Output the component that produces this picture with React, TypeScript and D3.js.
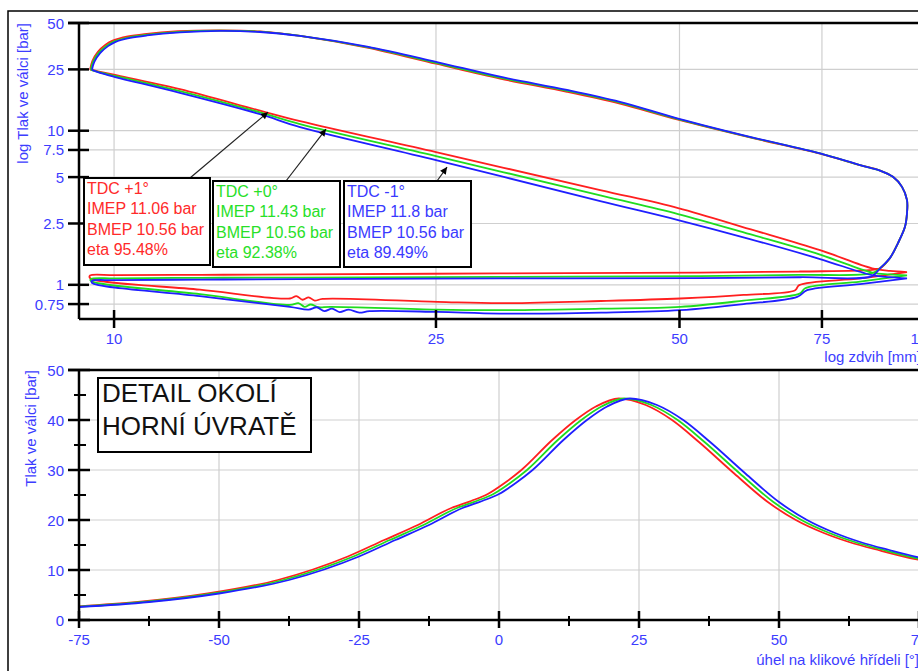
import React from 'react';
import * as d3 from 'd3';

// ---- upper chart: log p - log stroke loops, [stroke mm, pressure bar] ----
const expansionRed = [[9.34, 24.9], [9.40, 28.3], [9.55, 32.5], [9.76, 36.1], [9.96, 38.4], [10.4, 40.9], [10.9, 42.4], [12.0, 44.2], [13.5, 44.8], [15.15, 44.1], [16.98, 41.2], [20.55, 34.6], [25.0, 27.2], [30.0, 21.8], [36.3, 17.9], [42.2, 15.0], [49.8, 11.8], [61.1, 9.05], [74.6, 7.1], [83.6, 5.98]];
const expansionGreen = [[9.36, 24.85], [9.42, 28.1], [9.58, 32.2], [9.8, 35.7], [10.0, 38.0], [10.44, 40.4], [10.94, 41.9], [12.03, 43.8], [13.5, 44.6], [15.15, 43.9], [16.98, 41.2], [20.55, 34.85], [25.0, 27.6], [30.0, 22.1], [36.3, 18.15], [42.2, 15.2], [49.8, 11.9], [61.1, 9.09], [74.6, 7.12], [83.6, 5.98]];
const expansionBlue = [[9.39, 24.8], [9.45, 27.9], [9.61, 31.9], [9.83, 35.4], [10.03, 37.6], [10.47, 40.0], [10.98, 41.5], [12.06, 43.4], [13.52, 44.4], [15.15, 43.7], [16.98, 41.2], [20.55, 35.1], [25.0, 28.0], [30.0, 22.4], [36.3, 18.4], [42.2, 15.4], [49.8, 12.0], [61.1, 9.13], [74.6, 7.13], [83.6, 5.98]];
// exhaust valve opening, same for all three
const blowdown = [[88.5, 5.51], [91.8, 5.02], [94.2, 4.32], [95.55, 3.54], [95.55, 2.92], [95.0, 2.38], [93.1, 1.86], [91.0, 1.49], [88.5, 1.28]];
const exhaustRed = [[86.5, 1.25], [70.5, 1.22], [53, 1.2], [30, 1.185], [17, 1.17], [12.8, 1.16], [10.03, 1.155], [9.34, 1.15]];
const exhaustGreen = [[86.5, 1.19], [70.5, 1.16], [53, 1.14], [30, 1.125], [17, 1.115], [12.8, 1.11], [10.03, 1.1], [9.36, 1.09]];
const exhaustBlue = [[86.5, 1.14], [70.5, 1.12], [53, 1.105], [30, 1.1], [17, 1.09], [12.8, 1.08], [10.03, 1.072], [9.39, 1.06]];
const intakeRed = [[9.34, 1.105], [12.77, 0.93], [16.5, 0.815], [16.8, 0.845], [17.1, 0.8], [17.4, 0.83], [17.7, 0.79], [18.1, 0.81], [25.1, 0.775], [30, 0.76], [40, 0.785], [50.1, 0.815], [60, 0.86], [69.5, 0.923], [70.3, 0.995], [83.6, 1.1], [95.55, 1.21]];
const intakeGreen = [[9.36, 1.06], [12.77, 0.87], [16.5, 0.74], [16.9, 0.76], [17.2, 0.72], [17.5, 0.745], [17.9, 0.715], [18.5, 0.72], [25.1, 0.69], [30, 0.685], [40, 0.7], [50.1, 0.719], [60, 0.79], [70.5, 0.88], [71.5, 0.95], [83.6, 1.05], [95.55, 1.15]];
const intakeBlue = [[9.39, 1.03], [12.77, 0.844], [16.5, 0.719], [17.4, 0.69], [17.8, 0.715], [18.2, 0.675], [18.6, 0.7], [19.0, 0.665], [19.5, 0.69], [20.1, 0.66], [20.7, 0.675], [25.1, 0.667], [30, 0.65], [40, 0.66], [50.1, 0.685], [60, 0.75], [69.9, 0.835], [71.9, 0.923], [83.6, 1.01], [95.55, 1.1]];
const compressionRed = [[95.55, 1.21], [91, 1.23], [86.5, 1.28], [74.6, 1.68], [61.1, 2.3], [49.8, 3.15], [39.9, 4.12], [25.0, 7.26], [16.98, 11.55], [15.15, 13.5], [12.06, 18.6], [10.03, 23.0], [9.55, 24.3], [9.34, 24.9]];
const compressionGreen = [[95.55, 1.15], [91, 1.17], [86.5, 1.2], [74.6, 1.57], [61.1, 2.13], [49.8, 2.88], [39.9, 3.8], [25.0, 6.85], [16.98, 11.05], [15.15, 13.15], [12.06, 18.1], [10.03, 22.65], [9.58, 24.0], [9.36, 24.85]];
const compressionBlue = [[95.55, 1.1], [91, 1.12], [86.5, 1.155], [74.6, 1.47], [61.1, 1.98], [49.8, 2.63], [39.9, 3.49], [25.0, 6.45], [16.98, 10.56], [15.15, 12.8], [12.06, 17.6], [10.03, 22.3], [9.61, 23.7], [9.39, 24.8]];

const strokeTicks = [10, 25, 50, 75, 100];
const logPressureTicks = [50, 25, 10, 7.5, 5, 2.5, 1, 0.75];

// ---- lower chart: pressure vs crank angle ----
const crankPressure = [2.3, 2.6, 3.6, 5.3, 8.0, 12.7, 16.0, 19.0, 22.4, 23.8, 25.2, 27.4, 30, 36, 40, 42.7, 44.3, 43, 40, 35.6, 29.3, 23.6, 20, 17.4, 15.6, 13.9, 12.5, 11.4];
const anglesRed = [-82, -77, -64.5, -52, -39.5, -27, -20.5, -14.5, -8.5, -5, -2, 1, 4, 9.5, 13.7, 17.3, 21.4, 26.2, 30.9, 35.7, 42, 48, 53, 58, 62.5, 68, 73, 78];
const anglesGreen = [-81, -76, -63.5, -51, -38.5, -26, -19.5, -13.5, -7.5, -4, -1, 2, 5, 10.5, 14.7, 18.3, 22.4, 27.2, 31.9, 36.7, 43, 49, 54, 59, 63.5, 69, 74, 79];
const anglesBlue = [-80, -75, -62.5, -50, -37.5, -25, -18.5, -12.5, -6.5, -3, 0, 3, 6, 11.5, 15.7, 19.3, 23.4, 28.2, 32.9, 37.7, 44, 50, 55, 60, 64.5, 70, 75, 80];

const angleTicks = [-75, -50, -25, 0, 25, 50, 75];
const angleMinorTicks = [-62.5, -37.5, -12.5, 12.5, 37.5, 62.5];
const pressureTicks = [0, 10, 20, 30, 40, 50];
const pressureMinorTicks = [5, 15, 25, 35, 45];

// ---- series / annotations ----
const seriesNames = ['TDC +1°', 'TDC +0°', 'TDC -1°'];
const imep = [11.06, 11.43, 11.8];
const bmep = [10.56, 10.56, 10.56];
const eta = [95.48, 92.38, 89.49];
const lineColors = ['#ff1f1f', '#1fdc1f', '#1f1fff'];
const textColors = ['#ff2a2a', '#28e028', '#3a3aff'];
// where each label arrow points [stroke, pressure]
const arrowTargets = [[15.5, 13.2], [18.28, 10.25], [25.8, 5.81]];

const FONT = '"Liberation Sans", Arial, sans-serif';
const LABEL = '#3d3dff';
const GRID = '#cfcfcf';

export default function App() {
  const xUp = d3.scaleLog().domain([9.05, 100]).range([79, 923]);
  const yUp = d3.scaleLog().domain([0.6, 50]).range([319, 23]);
  const xLo = d3.scaleLinear().domain([-75, 75]).range([79, 919]);
  const yLo = d3.scaleLinear().domain([0, 50]).range([620, 370]);

  const loopLine = d3.line<number[]>()
    .x(d => xUp(d[0]))
    .y(d => yUp(d[1]))
    .curve(d3.curveCatmullRom.alpha(0.5));

  const crankLine = d3.line<number>()
    .x(d => d)
    .y((d, i) => yLo(crankPressure[i]))
    .curve(d3.curveMonotoneX);

  // each loop: expansion -> blowdown -> exhaust -> intake -> compression
  const loops = [
    [expansionRed, exhaustRed, intakeRed, compressionRed],
    [expansionGreen, exhaustGreen, intakeGreen, compressionGreen],
    [expansionBlue, exhaustBlue, intakeBlue, compressionBlue],
  ].map(([exp, exh, intk, comp]) => [...exp, ...blowdown, ...exh, ...intk, ...comp]);

  const angleSets = [anglesRed, anglesGreen, anglesBlue];

  const boxes = [
    { x: 84, y: 178, w: 126, h: 87, ax: 190 },
    { x: 213, y: 181, w: 127, h: 86, ax: 286 },
    { x: 344, y: 181, w: 127, h: 86, ax: 437 },
  ];

  return (
    <svg width={918} height={671} style={{ position: 'absolute', left: 0, top: 0, background: '#fff' }}
      fontFamily={FONT}>
      <defs>
        <clipPath id="upClip"><rect x={79} y={23} width={850} height={296} /></clipPath>
        <clipPath id="loClip"><rect x={79} y={370} width={850} height={250} /></clipPath>
        <marker id="arrow" viewBox="0 0 10 10" refX={10} refY={5} markerWidth={8} markerHeight={7}
          markerUnits="userSpaceOnUse" orient="auto">
          <path d="M0,0 L10,5 L0,10 z" fill="#000" />
        </marker>
      </defs>

      {/* outer frame */}
      <path d="M8,671 V11 H918" fill="none" stroke="#000" strokeWidth={1.5} />

      {/* ===== upper chart ===== */}
      <g>
        {logPressureTicks.slice(1).map(t => (
          <line key={'gy' + t} x1={79} x2={918} y1={yUp(t)} y2={yUp(t)} stroke={GRID} strokeWidth={1.2} />
        ))}
        {strokeTicks.slice(0, 4).map(t => (
          <line key={'gx' + t} x1={xUp(t)} x2={xUp(t)} y1={23} y2={319} stroke={GRID} strokeWidth={1.2} />
        ))}

        <g clipPath="url(#upClip)">
          {loops.map((pts, i) => (
            <path key={i} d={loopLine(pts) || ''} fill="none" stroke={lineColors[i]} strokeWidth={1.8} />
          ))}
        </g>

        <line x1={68} x2={918} y1={23} y2={23} stroke="#000" strokeWidth={2.5} />
        <line x1={79} x2={79} y1={23} y2={319} stroke="#000" strokeWidth={2.5} />
        <line x1={79} x2={918} y1={319} y2={319} stroke="#000" strokeWidth={2.5} />

        {logPressureTicks.map(t => (
          <g key={'ty' + t}>
            <line x1={68} x2={89} y1={yUp(t)} y2={yUp(t)} stroke="#000" strokeWidth={2.5} />
            <text x={64} y={yUp(t) + 5.5} textAnchor="end" fontSize={15} fill={LABEL}>{t}</text>
          </g>
        ))}
        {strokeTicks.map(t => (
          <g key={'tx' + t}>
            <line x1={xUp(t)} x2={xUp(t)} y1={310} y2={328} stroke="#000" strokeWidth={2.5} />
            <text x={xUp(t)} y={344} textAnchor="middle" fontSize={15} fill={LABEL}>{t}</text>
          </g>
        ))}

        <text transform="translate(28,23) rotate(-90)" textAnchor="end" fontSize={15} fill={LABEL}>
          log Tlak ve válci [bar]
        </text>
        <text x={921} y={362} textAnchor="end" fontSize={15} fill={LABEL}>log zdvih [mm]</text>

        {boxes.map((b, i) => {
          const [ts, tp] = arrowTargets[i];
          return (
            <g key={'box' + i}>
              <line x1={b.ax} y1={b.y} x2={xUp(ts)} y2={yUp(tp)} stroke="#222" strokeWidth={1.2}
                markerEnd="url(#arrow)" />
              <rect x={b.x} y={b.y} width={b.w} height={b.h} fill="#fff" stroke="#000" strokeWidth={2} />
              {[seriesNames[i], `IMEP ${imep[i]} bar`, `BMEP ${bmep[i]} bar`, `eta ${eta[i]}%`].map((s, j) => (
                <text key={j} x={b.x + 3} y={b.y + 16 + j * 20.4} fontSize={16} fill={textColors[i]}>{s}</text>
              ))}
            </g>
          );
        })}
      </g>

      {/* ===== lower chart ===== */}
      <g>
        {pressureTicks.slice(1, 5).map(t => (
          <line key={'lgy' + t} x1={79} x2={918} y1={yLo(t)} y2={yLo(t)} stroke={GRID} strokeWidth={1.2} />
        ))}
        {angleTicks.slice(1, 6).map(t => (
          <line key={'lgx' + t} x1={xLo(t)} x2={xLo(t)} y1={370} y2={620} stroke={GRID} strokeWidth={1.2} />
        ))}

        <g clipPath="url(#loClip)">
          {angleSets.map((a, i) => (
            <path key={i} d={crankLine(a.map(v => xLo(v))) || ''} fill="none" stroke={lineColors[i]} strokeWidth={1.8} />
          ))}
        </g>

        <line x1={68} x2={918} y1={370} y2={370} stroke="#000" strokeWidth={2.5} />
        <line x1={79} x2={79} y1={370} y2={620} stroke="#000" strokeWidth={2.5} />
        <line x1={79} x2={918} y1={620} y2={620} stroke="#000" strokeWidth={2.5} />

        {pressureTicks.map(t => (
          <g key={'lty' + t}>
            <line x1={68} x2={90} y1={yLo(t)} y2={yLo(t)} stroke="#000" strokeWidth={2.5} />
            <text x={64} y={yLo(t) + 5.5} textAnchor="end" fontSize={15} fill={LABEL}>{t}</text>
          </g>
        ))}
        {pressureMinorTicks.map(t => (
          <line key={'lmy' + t} x1={74} x2={86} y1={yLo(t)} y2={yLo(t)} stroke="#000" strokeWidth={2} />
        ))}
        {angleTicks.map(t => (
          <g key={'ltx' + t}>
            <line x1={xLo(t)} x2={xLo(t)} y1={611} y2={628} stroke="#000" strokeWidth={2.5} />
            <text x={xLo(t)} y={645} textAnchor="middle" fontSize={15} fill={LABEL}>{t}</text>
          </g>
        ))}
        {angleMinorTicks.map(t => (
          <line key={'lmx' + t} x1={xLo(t)} x2={xLo(t)} y1={616} y2={626} stroke="#000" strokeWidth={2} />
        ))}

        <text transform="translate(36,370) rotate(-90)" textAnchor="end" fontSize={15} fill={LABEL}>
          Tlak ve válci [bar]
        </text>
        <text x={919} y={665} textAnchor="end" fontSize={15} fill={LABEL}>úhel na klikové hřídeli [°]</text>

        <rect x={98} y={378} width={213} height={74} fill="#fff" stroke="#000" strokeWidth={2} />
        <text x={102} y={402} fontSize={26} fill="#111">DETAIL OKOLÍ</text>
        <text x={102} y={435} fontSize={26} fill="#111">HORNÍ ÚVRATĚ</text>
      </g>
    </svg>
  );
}
